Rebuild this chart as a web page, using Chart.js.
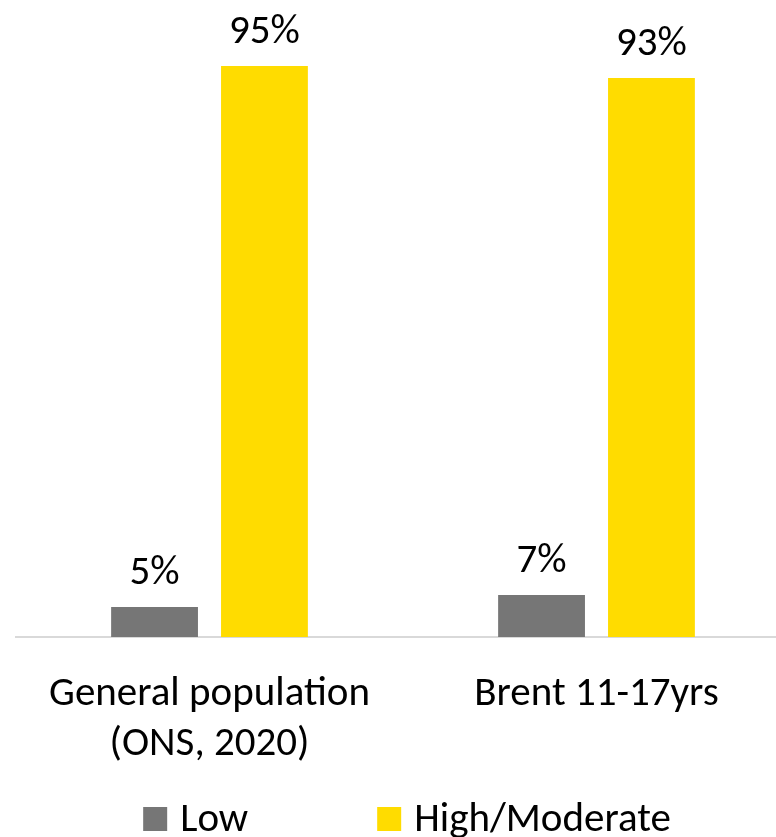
<!DOCTYPE html>
<html>
<head>
<meta charset="utf-8">
<script src="https://cdn.jsdelivr.net/npm/chart.js@4"></script>
<style>
  html, body { margin: 0; padding: 0; background: #fff; overflow: hidden; }
  #wrap { width: 790px; height: 837px; }
</style>
</head>
<body>
<div id="wrap"><canvas id="c" width="790" height="837"></canvas></div>
<script>
// Categories and series
const categories = [["General population", "(ONS, 2020)"], "Brent 11-17yrs"];
const seriesNames = ["Low", "High/Moderate"];
const lowValues = [5, 7];
const highModerateValues = [95, 93];
const seriesColors = ["#767676", "#FFDC00"];

const FONT = "Carlito, Calibri, Lato, sans-serif";
const FONT_SIZE = 41;

// Percentage labels above every bar
const valueLabels = {
  id: 'valueLabels',
  afterDatasetsDraw(chart) {
    const ctx = chart.ctx;
    ctx.save();
    ctx.font = `${FONT_SIZE}px ${FONT}`;
    ctx.fillStyle = '#000';
    ctx.textAlign = 'center';
    ctx.textBaseline = 'alphabetic';
    chart.data.datasets.forEach((ds, i) => {
      chart.getDatasetMeta(i).data.forEach((bar, j) => {
        ctx.fillText(ds.data[j] + '%', bar.x, bar.y - 23);
      });
    });
    ctx.restore();
  }
};

// Legend row along the bottom edge, centred under the plot
const bottomLegend = {
  id: 'bottomLegend',
  afterDraw(chart) {
    const ctx = chart.ctx;
    const box = 24, boxGap = 13, itemGap = 129;
    ctx.save();
    ctx.font = `${FONT_SIZE}px ${FONT}`;
    ctx.textBaseline = 'alphabetic';
    ctx.textAlign = 'left';
    const items = chart.data.datasets.map(ds => ({
      text: ds.label, color: ds.backgroundColor, w: ctx.measureText(ds.label).width
    }));
    const total = items.reduce((s, it) => s + box + boxGap + it.w, 0) + itemGap * (items.length - 1);
    const area = chart.chartArea;
    let x = (area.left + area.right) / 2 + 4 - total / 2;
    const baseline = chart.height - 6;
    items.forEach(it => {
      ctx.fillStyle = it.color;
      ctx.fillRect(x, baseline - box, box, box);
      x += box + boxGap;
      ctx.fillStyle = '#000';
      ctx.fillText(it.text, x, baseline);
      x += it.w + itemGap;
    });
    ctx.restore();
  }
};

new Chart(document.getElementById('c'), {
  type: 'bar',
  data: {
    labels: categories,
    datasets: [
      { label: seriesNames[0], data: lowValues, backgroundColor: seriesColors[0],
        barPercentage: 0.79, categoryPercentage: 0.568 },
      { label: seriesNames[1], data: highModerateValues, backgroundColor: seriesColors[1],
        barPercentage: 0.79, categoryPercentage: 0.568 }
    ]
  },
  options: {
    responsive: false,
    animation: false,
    layout: { padding: { left: 16, right: 0, top: 36, bottom: 34 } },
    plugins: { legend: { display: false }, tooltip: { enabled: false } },
    scales: {
      x: {
        grid: { display: false, drawTicks: false },
        border: { color: '#d9d9d9', width: 2 },
        ticks: {
          color: '#000',
          font: { family: FONT, size: FONT_SIZE, lineHeight: 1.22 },
          padding: 33,
          maxRotation: 0,
          autoSkip: false
        }
      },
      y: { display: false, min: 0, max: 100 }
    }
  },
  plugins: [valueLabels, bottomLegend]
});
</script>
</body>
</html>
